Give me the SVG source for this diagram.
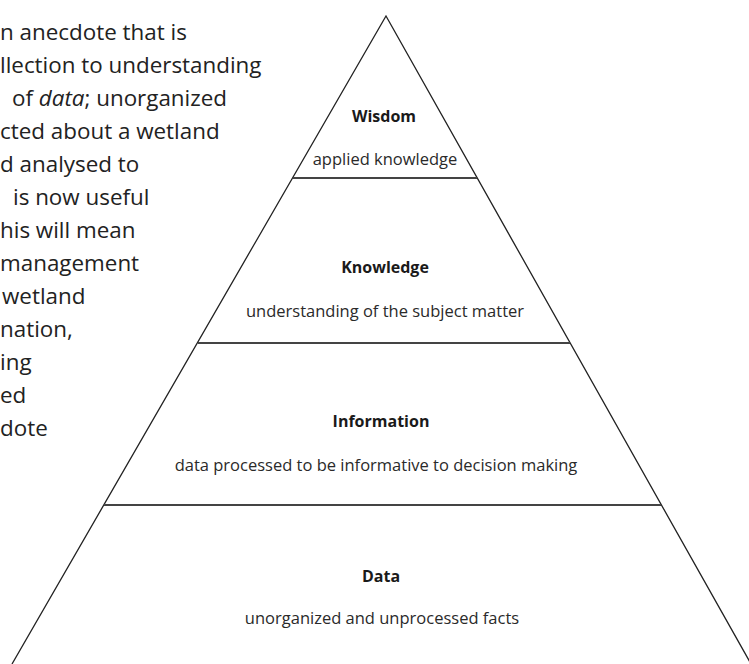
<svg xmlns="http://www.w3.org/2000/svg" width="749" height="664" viewBox="0 0 749 664">
<style>
.para{font-family:"Open Sans","Noto Sans",sans-serif;font-size:22.4px;fill:#222}
.title{font-family:"Open Sans","Noto Sans",sans-serif;font-size:16px;font-weight:bold;fill:#1a1a1a;text-anchor:middle}
.sub{font-family:"Open Sans","Noto Sans",sans-serif;font-size:16.5px;fill:#2a2a2a;text-anchor:middle}
.edge{stroke:#222;stroke-width:1.3;fill:none}
.div{stroke:#444;stroke-width:1.8;fill:none}
</style>
<rect width="749" height="664" fill="#fff"/>
<g id="paragraph" class="para">
<text x="0" y="40">n anecdote that is</text>
<text x="0" y="73">llection to understanding</text>
<text x="12" y="106">of <tspan font-style="italic">data</tspan>; unorganized</text>
<text x="0" y="139">cted about a wetland</text>
<text x="0" y="172">d analysed to</text>
<text x="13" y="205">is now useful</text>
<text x="0" y="238">his will mean</text>
<text x="0" y="271">management</text>
<text x="2" y="304">wetland</text>
<text x="0" y="337">nation,</text>
<text x="0" y="370">ing</text>
<text x="0" y="403">ed</text>
<text x="0" y="436">dote</text>
</g>
<g id="connectors">
<path class="edge" d="M12,664 L386,16 L751,664"/>
<line class="div" x1="293" y1="178" x2="477" y2="178"/>
<line class="div" x1="198" y1="343" x2="570" y2="343"/>
<line class="div" x1="104" y1="505" x2="661" y2="505"/>
</g>
<g id="wisdom">
<text class="title" x="384" y="122">Wisdom</text>
<text class="sub" x="385" y="165">applied knowledge</text>
</g>
<g id="knowledge">
<text class="title" x="385" y="273">Knowledge</text>
<text class="sub" x="385" y="317">understanding of the subject matter</text>
</g>
<g id="information">
<text class="title" x="381" y="427">Information</text>
<text class="sub" x="376" y="471">data processed to be informative to decision making</text>
</g>
<g id="data">
<text class="title" x="381" y="582">Data</text>
<text class="sub" x="382" y="624">unorganized and unprocessed facts</text>
</g>
</svg>
